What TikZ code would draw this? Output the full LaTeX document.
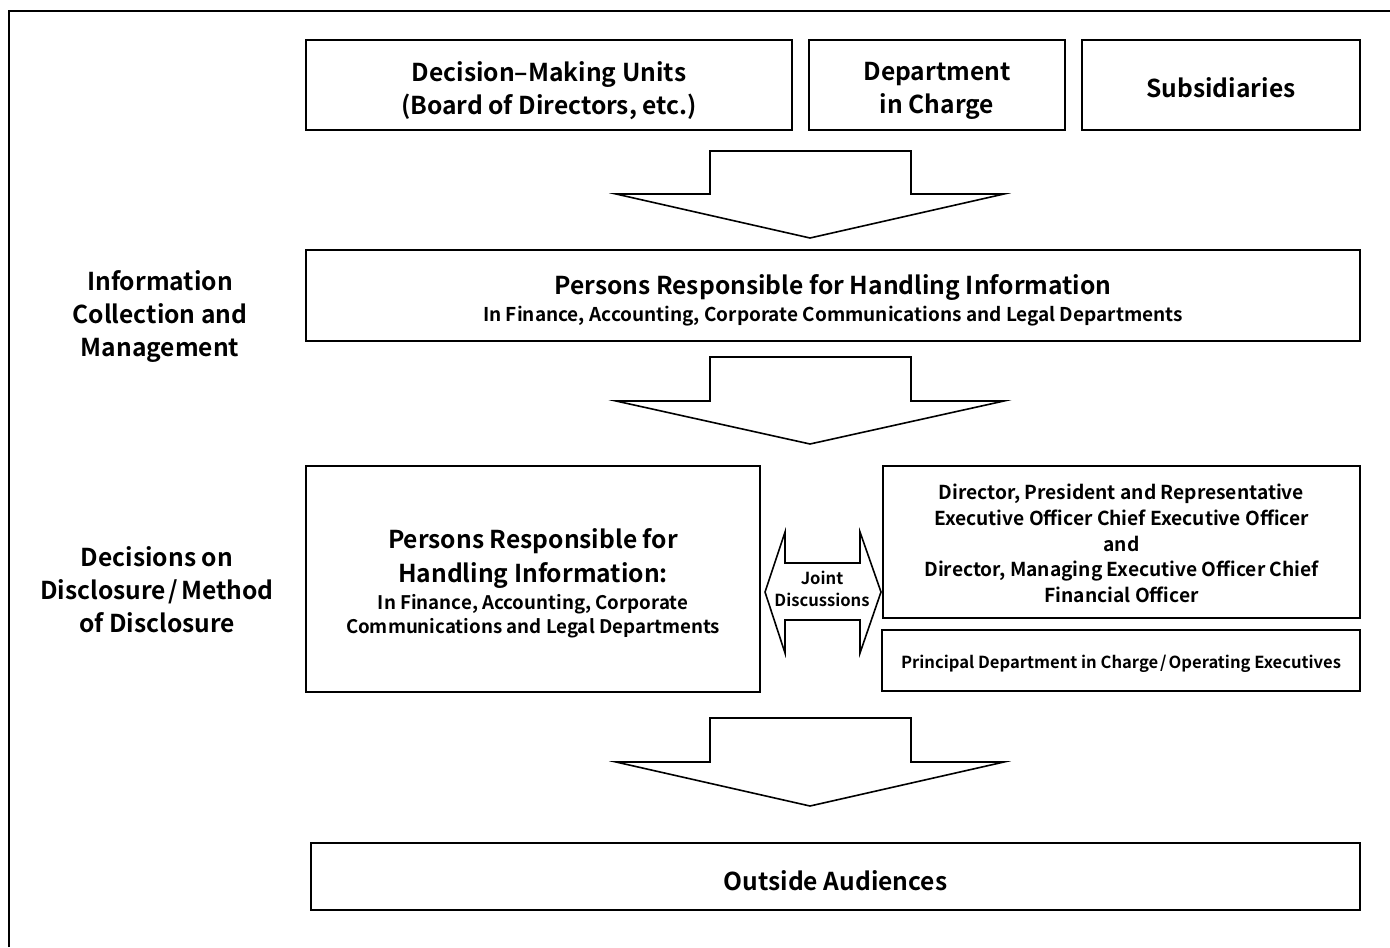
\documentclass[tikz,border=0pt]{standalone}
\usepackage{fontspec}
\setmainfont{Noto Sans CJK JP}[BoldFont={Noto Sans CJK JP Bold}]
\newcommand{\bigf}{\fontsize{12.3}{16.5}\selectfont}
\newcommand{\subf}[1]{\fontsize{#1}{13}\selectfont}
\begin{document}
\begin{tikzpicture}[x=0.5pt,y=-0.5pt,
  box/.style={draw=black,line width=1pt,inner sep=0pt},
  txt/.style={align=center,inner sep=0pt,font=\bfseries},
  big/.style={font=\fontsize{12.3}{16.5}\selectfont\bfseries},
  small/.style={font=\fontsize{8.3}{11}\selectfont\bfseries},
  blockarrow/.style={draw=black,line width=0.8pt,fill=white,line join=miter}]
\useasboundingbox (0,0) rectangle (1390,947);
% outer frame (cropped)
\draw[line width=1pt] (9,947) -- (9,11) -- (1390,11);
% top row
\node[box,minimum width=243pt,minimum height=45pt,
  label={[name=dmuT,txt,big,yshift=-2.75pt]center:{Decision–Making Units\\(Board of Directors, etc.)}}]
  (dmu) at (549,85) {};
\node[box,minimum width=128pt,minimum height=45pt,
  label={[name=deptT,txt,big,yshift=-2.75pt]center:{Department\\in Charge}}]
  (dept) at (937,85) {};
\node[box,minimum width=139pt,minimum height=45pt,
  label={[name=subsT,txt,big,yshift=-1.5pt]center:{Subsidiaries}}]
  (subs) at (1221,85) {};
% arrow 1
\draw[blockarrow] (710,151) -- (911,151) -- (911,194) -- (1004,194) -- (810,238)
  -- (616,194) -- (710,194) -- cycle;
% persons responsible row
\node[box,minimum width=527pt,minimum height=45.5pt,
  label={[name=prhT,txt,yshift=-2.25pt]center:{\bigf Persons Responsible for Handling Information\\[1.5pt]
   \subf{9.5}In Finance, Accounting, Corporate Communications and Legal Departments}}]
  (prh) at (833,295.5) {};
% arrow 2
\draw[blockarrow] (710,357) -- (911,357) -- (911,401) -- (1004,401) -- (810,444)
  -- (616,401) -- (710,401) -- cycle;
% left labels
\node[txt,big] (lab1) at (160,316.5) {Information\\Collection and\\Management};
\node[txt,big] (lab2) at (157,589.5) {Decisions on\\Disclosure\hspace{1.5pt}/\hspace{1.5pt}Method\\of Disclosure};
% decision row
\node[box,minimum width=227pt,minimum height=113pt,
  label={[name=prh2T,txt,yshift=-2.25pt]center:{\bigf Persons Responsible for\\[3.5pt]\bigf Handling Information:\\[1.5pt]
   \subf{9.35}In Finance, Accounting, Corporate\\\subf{9.35}Communications and Legal Departments}}]
  (prh2) at (533,579) {};
\node[box,minimum width=238.5pt,minimum height=76pt,
  label={[name=execT,txt,font=\fontsize{9.6}{12.85}\selectfont\bfseries,yshift=-0.75pt]center:{Director, President and Representative\\Executive Officer Chief Executive Officer\\and\\Director, Managing Executive Officer Chief\\Financial Officer}}]
  (exec) at (1121.5,542) {};
\node[box,minimum width=239pt,minimum height=30.5pt,
  label={[name=princT,txt,small,yshift=-1.5pt]center:{Principal Department in Charge\hspace{1pt}/\hspace{1pt}Operating Executives}}]
  (princ) at (1121,660.5) {};
% double arrow (joint discussions)
\draw[blockarrow] (765,592) -- (785,532) -- (785,563) -- (860,563) -- (860,532)
  -- (881,592) -- (860,653) -- (860,620) -- (785,620) -- (785,653) -- cycle;
\node[txt,small] (joint) at (822,589) {Joint\\Discussions};
% arrow 3
\draw[blockarrow] (710,718) -- (911,718) -- (911,762) -- (1004,762) -- (810,806)
  -- (616,762) -- (710,762) -- cycle;
% outside audiences
\node[box,minimum width=524.5pt,minimum height=33.5pt,
  label={[name=outT,txt,big,yshift=-2pt]center:{Outside Audiences}}]
  (out) at (835.5,876.5) {};
\end{tikzpicture}
\end{document}
